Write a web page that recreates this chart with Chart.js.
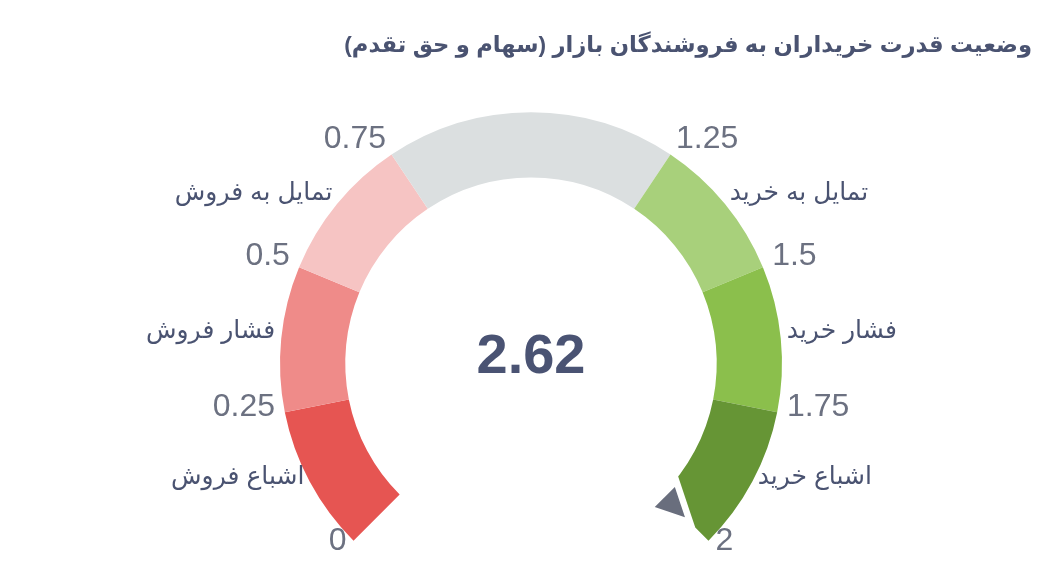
<!DOCTYPE html>
<html lang="fa">
<head>
<meta charset="utf-8">
<title>وضعیت قدرت خریداران به فروشندگان بازار</title>
<script src="https://cdn.jsdelivr.net/npm/chart.js@4"></script>
<style>
  html, body { margin: 0; padding: 0; background: #fff; }
  #wrap { position: relative; width: 1057px; height: 576px; }
  #gauge { position: absolute; left: 0; top: 0; }
  #title {
    position: absolute; right: 25px; top: 31px; margin: 0;
    font: bold 22.7px "Liberation Sans", "DejaVu Sans", sans-serif;
    color: #4a5371; direction: rtl; white-space: nowrap;
  }
</style>
</head>
<body>
<div id="wrap">
  <canvas id="gauge" width="1057" height="576"></canvas>
  <h1 id="title">وضعیت قدرت خریداران به فروشندگان بازار (سهام و حق تقدم)</h1>
</div>
<script>
// gauge zones: boundaries, names and colours
const bounds = [0, 0.25, 0.5, 0.75, 1.25, 1.5, 1.75, 2];
const tickLabels = ['0', '0.25', '0.5', '0.75', '1.25', '1.5', '1.75', '2'];
const zoneLabels = ['اشباع فروش', 'فشار فروش', 'تمایل به فروش', '', 'تمایل به خرید', 'فشار خرید', 'اشباع خرید'];
const zoneColors = ['#e65552', '#ef8b89', '#f6c4c3', '#dbdfe0', '#a8d07b', '#8bbf4c', '#669535'];
const currentValue = 2.62;

const zoneSizes = zoneLabels.map((_, i) => bounds[i + 1] - bounds[i]);

const gaugeText = {
    id: 'gaugeText',
    afterDatasetsDraw(chart) {
        const ctx = chart.ctx;
        const arcs = chart.getDatasetMeta(0).data;
        const cx = arcs[0].x, cy = arcs[0].y;
        const R = arcs[0].outerRadius, r0 = arcs[0].innerRadius;
        const a0 = arcs[0].startAngle, a1 = arcs[arcs.length - 1].endAngle;
        const lo = bounds[0], hi = bounds[bounds.length - 1];
        const angleOf = v => a0 + (v - lo) / (hi - lo) * (a1 - a0);
        const alignFor = a => {
            const c = Math.cos(a);
            return c < -0.01 ? 'right' : (c > 0.01 ? 'left' : 'center');
        };

        ctx.save();
        // boundary numbers
        ctx.font = '32px "Liberation Sans", Arial, sans-serif';
        ctx.fillStyle = '#6c7181';
        ctx.textBaseline = 'alphabetic';
        bounds.forEach((v, i) => {
            const a = angleOf(v);
            ctx.textAlign = alignFor(a);
            ctx.fillText(tickLabels[i], cx + (R + 10) * Math.cos(a), cy + (R + 10) * Math.sin(a) + 2);
        });

        // zone names
        ctx.font = '25px "Liberation Sans", "DejaVu Sans", sans-serif';
        ctx.fillStyle = '#4a5371';
        zoneLabels.forEach((name, i) => {
            if (!name) return;
            const a = angleOf((bounds[i] + bounds[i + 1]) / 2);
            ctx.textAlign = alignFor(a);
            ctx.fillText(name, cx + (R + 6) * Math.cos(a), cy + (R + 6) * Math.sin(a));
        });

        // pointer, clamped to the scale
        const pa = angleOf(Math.min(Math.max(currentValue, lo), hi));
        const half = 0.075;
        ctx.beginPath();
        ctx.moveTo(cx + (r0 + 32) * Math.cos(pa), cy + (r0 + 32) * Math.sin(pa));
        ctx.lineTo(cx + (r0 + 4) * Math.cos(pa - half), cy + (r0 + 4) * Math.sin(pa - half));
        ctx.lineTo(cx + (r0 + 4) * Math.cos(pa + half), cy + (r0 + 4) * Math.sin(pa + half));
        ctx.closePath();
        ctx.lineJoin = 'miter';
        ctx.lineWidth = 13;
        ctx.strokeStyle = '#ffffff';
        ctx.stroke();
        ctx.fillStyle = '#696e7d';
        ctx.fill();

        // value in the middle
        ctx.font = 'bold 56px "Liberation Sans", Arial, sans-serif';
        ctx.fillStyle = '#4a5373';
        ctx.textAlign = 'center';
        ctx.textBaseline = 'middle';
        ctx.fillText(currentValue.toFixed(2), cx, cy - 6);
        ctx.restore();
    }
};

new Chart(document.getElementById('gauge'), {
    type: 'doughnut',
    data: {
        labels: zoneLabels,
        datasets: [{
            data: zoneSizes,
            backgroundColor: zoneColors,
            borderWidth: 0
        }]
    },
    options: {
        responsive: false,
        animation: false,
        rotation: -135,
        circumference: 270,
        cutout: '74%',
        layout: { padding: { left: 280, right: 275, top: 112, bottom: 35 } },
        plugins: {
            legend: { display: false },
            tooltip: { enabled: false }
        }
    },
    plugins: [gaugeText]
});
</script>
</body>
</html>
